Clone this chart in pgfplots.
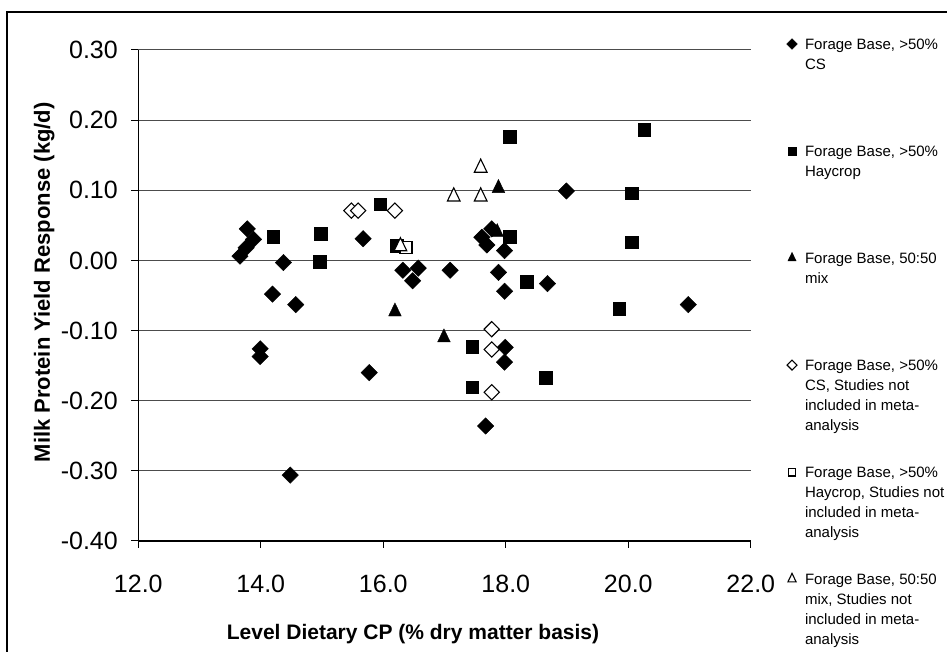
\documentclass[border=0pt]{standalone}
\usepackage{pgfplots}
\pgfplotsset{compat=1.18}
\usepackage{fontspec}
\setmainfont{Liberation Sans}
\newcommand{\legtxt}[1]{\parbox[t][107pt][t]{160pt}{\raggedright\strut #1}}
\begin{document}
\begin{tikzpicture}[x=1pt,y=1pt]
\useasboundingbox (0,0) rectangle (947,652);
\draw[black, line width=1.3pt] (7,-5) -- (7,640) -- (955,640);
\begin{axis}[
  at={(138.3pt,111pt)}, anchor=south west,
  scale only axis, width=612.5pt, height=491pt,
  xmin=12, xmax=22, ymin=-0.4, ymax=0.3,
  xtick={12,14,16,18,20,22},
  ytick={-0.4,-0.3,-0.2,-0.1,0,0.1,0.2,0.3},
  axis x line*=bottom, axis y line*=left,
  axis line style={black, line width=1.2pt, -},
  tick align=outside, major tick length=7pt,
  tick style={black, line width=1pt},
  ymajorgrids, major grid style={black!70, line width=1pt},
  /pgf/number format/assume math mode=true,
  xticklabel style={/pgf/number format/.cd,fixed,fixed zerofill,precision=1,/tikz/.cd,font=\fontsize{25}{30}\selectfont, yshift=-24pt},
  yticklabel style={/pgf/number format/.cd,fixed,fixed zerofill,precision=2,/tikz/.cd,font=\fontsize{25}{30}\selectfont, xshift=-10pt},
  xlabel={Level Dietary CP (\% dry matter basis)},
  ylabel={Milk Protein Yield Response (kg/d)},
  xlabel style={at={(axis description cs:0.4485,-0.2016)}, anchor=base, font=\bfseries\fontsize{21}{26}\selectfont},
  ylabel style={at={(axis description cs:-0.1442,0.527)}, anchor=base, font=\bfseries\fontsize{22}{26}\selectfont},
  clip=false,
  legend style={at={(1.0586,1.0290)}, anchor=north west, draw=none, fill=none,
    inner sep=0pt, outer sep=0pt, row sep=0pt, column sep=7.7pt,
    nodes={inner sep=0pt, outer sep=0pt, text depth=, font=\fontsize{15}{20}\selectfont},
    cells={anchor=base west}},
  legend image code/.code={\draw[#1] plot coordinates {(4pt,5.7pt)};},
  legend image post style={every mark/.append style={scale=0.65}},
]
% Forage Base, >50% CS (filled diamonds)
\addplot[only marks, mark=square*, mark size=5.8pt, mark options={rotate=45, fill=black, draw=black}] coordinates {
(13.66,0.006) (13.76,0.018) (13.88,0.030) (13.78,0.045) (14.37,-0.003) (14.19,-0.048)
(14.57,-0.063) (13.99,-0.126) (13.99,-0.137) (14.48,-0.306) (15.67,0.031) (15.77,-0.160)
(16.32,-0.014) (16.57,-0.011) (16.48,-0.029) (17.09,-0.014) (17.61,0.033) (17.69,0.022)
(17.77,0.045) (17.98,0.014) (17.88,-0.017) (17.98,-0.044) (18.68,-0.033)
(18.99,0.099) (17.99,-0.124) (17.98,-0.145) (17.67,-0.236) (20.98,-0.063)
};
\addlegendentry{\legtxt{Forage Base, >50\%\\CS}}
% Forage Base, >50% Haycrop (filled squares)
\addplot[only marks, mark=square*, mark size=6.3pt, mark options={fill=black, draw=black}] coordinates {
(14.20,0.034) (14.98,0.038) (14.96,-0.002) (15.95,0.080) (16.22,0.021) (18.06,0.176)
(20.26,0.186) (20.06,0.096) (20.06,0.026) (18.06,0.034) (18.34,-0.030) (19.85,-0.069)
(17.45,-0.123) (18.65,-0.167) (17.45,-0.181)
};
\addlegendentry{\legtxt{Forage Base, >50\%\\Haycrop}}
% Forage Base, 50:50 mix (filled triangles)
\addplot[only marks, mark=triangle*, mark size=7.3pt, mark options={fill=black, draw=black, yscale=1.2}] coordinates {
(16.19,-0.073) (17.88,0.103) (16.99,-0.110) (17.86,0.040)
};
\addlegendentry{\legtxt{Forage Base, 50:50\\mix}}
% open diamonds
\addplot[only marks, mark=square*, mark size=5.4pt, mark options={rotate=45, fill=white, draw=black, line width=1.1pt}] coordinates {
(15.48,0.071) (15.59,0.071) (16.19,0.071) (17.77,-0.098) (17.77,-0.127) (17.77,-0.188)
};
\addlegendentry{\legtxt{Forage Base, >50\%\\CS, Studies not\\included in meta-\\analysis}}
% open squares
\addplot[only marks, mark=square*, mark size=6pt, mark options={fill=white, draw=black, line width=1.1pt}] coordinates {
(16.37,0.018)
};
\addlegendentry{\legtxt{Forage Base, >50\%\\Haycrop, Studies not\\included in meta-\\analysis}}
% open triangles
\addplot[only marks, mark=triangle*, mark size=7.3pt, mark options={fill=white, draw=black, line width=1.1pt, yscale=1.2}] coordinates {
(16.28,0.020) (17.15,0.091) (17.59,0.091) (17.59,0.132)
};
\addlegendentry{\legtxt{Forage Base, 50:50\\mix, Studies not\\included in meta-\\analysis}}
\end{axis}
\end{tikzpicture}
\end{document}
